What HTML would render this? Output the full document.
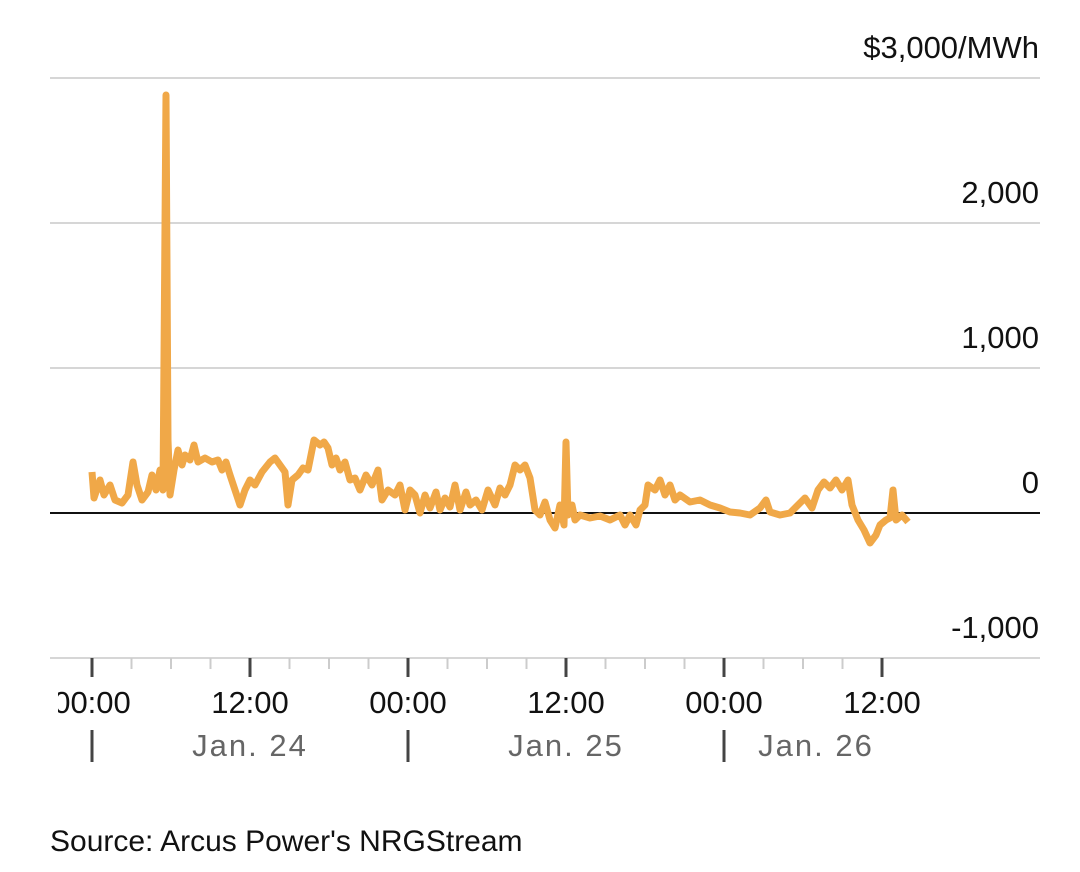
<!DOCTYPE html>
<html><head><style>body{margin:0;background:#fff}</style></head><body>
<svg width="1080" height="867" xmlns="http://www.w3.org/2000/svg" font-family="Liberation Sans, sans-serif">
<rect width="1080" height="867" fill="#fff"/>
<g stroke="#d6d6d6" stroke-width="2">
<line x1="50" y1="78" x2="1040" y2="78"/>
<line x1="50" y1="223" x2="1040" y2="223"/>
<line x1="50" y1="368" x2="1040" y2="368"/>
<line x1="50" y1="658" x2="1040" y2="658"/>
</g>
<line x1="50" y1="513" x2="1040" y2="513" stroke="#111" stroke-width="2"/>
<g fill="#111" font-size="31" text-anchor="end">
<text x="1039" y="58">$3,000/MWh</text>
<text x="1039" y="203">2,000</text>
<text x="1039" y="348">1,000</text>
<text x="1039" y="493">0</text>
<text x="1039" y="638">-1,000</text>
</g>
<g stroke="#ccc" stroke-width="2">
<line x1="131.5" y1="658" x2="131.5" y2="669"/><line x1="171" y1="658" x2="171" y2="669"/><line x1="210.5" y1="658" x2="210.5" y2="669"/>
<line x1="289.5" y1="658" x2="289.5" y2="669"/><line x1="329" y1="658" x2="329" y2="669"/><line x1="368.5" y1="658" x2="368.5" y2="669"/>
<line x1="447.5" y1="658" x2="447.5" y2="669"/><line x1="487" y1="658" x2="487" y2="669"/><line x1="526.5" y1="658" x2="526.5" y2="669"/>
<line x1="605.5" y1="658" x2="605.5" y2="669"/><line x1="645" y1="658" x2="645" y2="669"/><line x1="684.5" y1="658" x2="684.5" y2="669"/>
<line x1="763.5" y1="658" x2="763.5" y2="669"/><line x1="803" y1="658" x2="803" y2="669"/><line x1="842.5" y1="658" x2="842.5" y2="669"/>
</g>
<g stroke="#444" stroke-width="3">
<line x1="92" y1="658" x2="92" y2="677"/><line x1="250" y1="658" x2="250" y2="677"/><line x1="408" y1="658" x2="408" y2="677"/>
<line x1="566" y1="658" x2="566" y2="677"/><line x1="724" y1="658" x2="724" y2="677"/><line x1="882" y1="658" x2="882" y2="677"/>
<line x1="92" y1="730" x2="92" y2="762"/><line x1="408" y1="730" x2="408" y2="762"/><line x1="724" y1="730" x2="724" y2="762"/>
</g>
<g fill="#111" font-size="31" text-anchor="middle">
<text x="92" y="713">00:00</text><text x="250" y="713">12:00</text><text x="408" y="713">00:00</text>
<text x="566" y="713">12:00</text><text x="724" y="713">00:00</text><text x="882" y="713">12:00</text>
</g>
<rect x="0" y="680" width="58" height="40" fill="#fff"/>
<g fill="#666" font-size="31" text-anchor="middle" letter-spacing="2">
<text x="250" y="756">Jan. 24</text><text x="566" y="756">Jan. 25</text><text x="816" y="756">Jan. 26</text>
</g>
<text x="50" y="851" font-size="30" fill="#111">Source: Arcus Power's NRGStream</text>
<polyline fill="none" stroke="#f0a848" stroke-width="7" stroke-linejoin="round" points="92,472 94,498 100,480 104,495 110,485 115,500 122,503 128,495 133,462 137,485 142,500 148,492 152,475 156,490 160,470 163,490 166,95 168,440 170,495 174,470 178,450 182,465 185,455 190,460 194,445 198,462 205,458 212,462 218,460 222,470 226,462 230,475 235,490 240,505 245,490 250,480 255,485 262,472 270,462 275,458 280,465 285,472 288,505 292,480 298,475 303,468 308,470 314,440 320,445 324,442 328,448 332,465 336,458 340,470 345,462 350,480 355,478 360,490 366,475 372,485 378,470 382,500 388,490 395,495 400,485 405,510 410,490 415,495 420,513 425,495 430,508 436,492 440,510 445,498 450,507 455,485 460,510 466,492 470,505 476,500 482,510 488,490 495,505 500,488 505,495 510,485 515,465 520,470 525,465 530,478 535,510 540,515 545,502 550,520 555,528 560,505 564,525 566,442 568,515 572,505 575,520 580,515 590,518 600,516 610,520 620,515 625,525 630,515 636,525 640,510 645,505 648,485 655,490 660,480 665,495 670,485 675,500 680,495 690,502 700,500 710,505 720,508 730,512 740,513 750,515 760,508 766,500 770,512 780,515 790,513 798,505 805,498 812,508 818,490 824,482 830,488 836,480 842,490 848,480 852,505 858,520 864,530 870,543 876,535 880,525 886,520 890,518 893,490 896,520 902,515 908,522"/>
</svg>
</body></html>
